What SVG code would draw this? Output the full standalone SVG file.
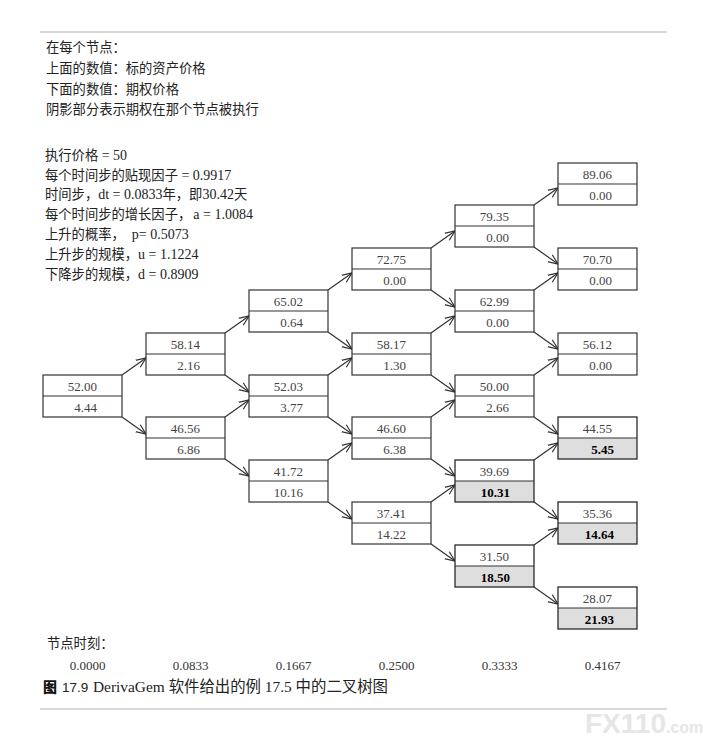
<svg xmlns="http://www.w3.org/2000/svg" width="703" height="738" viewBox="0 0 703 738">
<style>
.t{font-family:"Liberation Serif","Noto Sans CJK SC",serif;font-size:13.3px;fill:#222}
.l{font-size:14px}
.v{font-family:"Liberation Serif",serif;font-size:13px;fill:#444;text-anchor:end}
.b{font-family:"Liberation Serif",serif;font-size:13px;fill:#000;font-weight:bold;text-anchor:end}
.box{fill:#fff;stroke:#333;stroke-width:1.2}
.sbox{fill:none;stroke:#2a2a2a;stroke-width:1.3}
.sh{fill:#dedede;stroke:none}
.dv{stroke:#333;stroke-width:1.2}
.c path{fill:none;stroke:#333;stroke-width:1.2;marker-end:url(#ah)}
.tm{font-family:"Liberation Serif",serif;font-size:13px;fill:#333;text-anchor:middle}
.cap{font-family:"Liberation Serif","Noto Sans CJK SC",serif;font-size:15.4px;fill:#222}
</style>
<defs>
<marker id="ah" viewBox="0 0 10 10" refX="10" refY="5" markerWidth="10" markerHeight="10" markerUnits="userSpaceOnUse" orient="auto">
<path d="M0,0.8 L10,5 L0,9.2" fill="none" stroke="#333" stroke-width="1.2"/>
</marker>
</defs>
<rect width="703" height="738" fill="#fff"/>
<line x1="40" y1="32" x2="667" y2="32" stroke="#d8d8d8" stroke-width="2"/>
<line x1="40" y1="709" x2="667" y2="709" stroke="#d8d8d8" stroke-width="2"/>

<g id="legend">
<text class="t" x="46" y="51.5">在每个节点：</text>
<text class="t" x="46" y="73">上面的数值：标的资产价格</text>
<text class="t" x="46" y="93.5">下面的数值：期权价格</text>
<text class="t" x="46" y="114">阴影部分表示期权在那个节点被执行</text>
</g>
<g id="params">
<text class="t" x="45" y="160">执行价格<tspan class="l"> = 50</tspan></text>
<text class="t" x="45" y="179.5">每个时间步的贴现因子<tspan class="l"> = 0.9917</tspan></text>
<text class="t" x="45" y="199">时间步，<tspan class="l">dt = 0.0833</tspan>年，即<tspan class="l">30.42</tspan>天</text>
<text class="t" x="45" y="219">每个时间步的增长因子，<tspan class="l" dx="2">a = 1.0084</tspan></text>
<text class="t" x="45" y="239">上升的概率，<tspan class="l" dx="7">p= 0.5073</tspan></text>
<text class="t" x="45" y="259">上升步的规模，<tspan class="l">u = 1.1224</tspan></text>
<text class="t" x="45" y="279">下降步的规模，<tspan class="l">d = 0.8909</tspan></text>
</g>

<g id="connectors" class="c">
<path d="M122,375 L146,358"/><path d="M122,417 L146,434"/>
<path d="M225,333 L249,316"/><path d="M225,375 L249,392"/>
<path d="M225,417 L249,400"/><path d="M225,459 L249,476"/>
<path d="M328,290 L352,273"/><path d="M328,332 L352,349"/>
<path d="M328,375 L352,358"/><path d="M328,417 L352,434"/>
<path d="M328,460 L352,443"/><path d="M328,502 L352,519"/>
<path d="M431,248 L455,231"/><path d="M431,290 L455,307"/>
<path d="M431,333 L455,316"/><path d="M431,375 L455,392"/>
<path d="M431,417 L455,400"/><path d="M431,459 L455,476"/>
<path d="M431,502 L455,485"/><path d="M431,544 L455,561"/>
<path d="M534,205 L558,188"/><path d="M534,247 L558,264"/>
<path d="M534,290 L558,273"/><path d="M534,332 L558,349"/>
<path d="M534,375 L558,358"/><path d="M534,417 L558,434"/>
<path d="M534,460 L558,443"/><path d="M534,502 L558,519"/>
<path d="M534,545 L558,528"/><path d="M534,587 L558,604"/>
</g>

<g id="n0_0" transform="translate(43,375)"><rect class="box" width="79" height="42"/><line class="dv" x1="0" y1="21" x2="79" y2="21"/><text class="v" x="54" y="16">52.00</text><text class="v" x="54" y="37">4.44</text></g>

<g id="n1_0" transform="translate(146,333)"><rect class="box" width="79" height="42"/><line class="dv" x1="0" y1="21" x2="79" y2="21"/><text class="v" x="54" y="16">58.14</text><text class="v" x="54" y="37">2.16</text></g>
<g id="n1_1" transform="translate(146,417)"><rect class="box" width="79" height="42"/><line class="dv" x1="0" y1="21" x2="79" y2="21"/><text class="v" x="54" y="16">46.56</text><text class="v" x="54" y="37">6.86</text></g>

<g id="n2_0" transform="translate(249,290)"><rect class="box" width="79" height="42"/><line class="dv" x1="0" y1="21" x2="79" y2="21"/><text class="v" x="54" y="16">65.02</text><text class="v" x="54" y="37">0.64</text></g>
<g id="n2_1" transform="translate(249,375)"><rect class="box" width="79" height="42"/><line class="dv" x1="0" y1="21" x2="79" y2="21"/><text class="v" x="54" y="16">52.03</text><text class="v" x="54" y="37">3.77</text></g>
<g id="n2_2" transform="translate(249,460)"><rect class="box" width="79" height="42"/><line class="dv" x1="0" y1="21" x2="79" y2="21"/><text class="v" x="54" y="16">41.72</text><text class="v" x="54" y="37">10.16</text></g>

<g id="n3_0" transform="translate(352,248)"><rect class="box" width="79" height="42"/><line class="dv" x1="0" y1="21" x2="79" y2="21"/><text class="v" x="54" y="16">72.75</text><text class="v" x="54" y="37">0.00</text></g>
<g id="n3_1" transform="translate(352,333)"><rect class="box" width="79" height="42"/><line class="dv" x1="0" y1="21" x2="79" y2="21"/><text class="v" x="54" y="16">58.17</text><text class="v" x="54" y="37">1.30</text></g>
<g id="n3_2" transform="translate(352,417)"><rect class="box" width="79" height="42"/><line class="dv" x1="0" y1="21" x2="79" y2="21"/><text class="v" x="54" y="16">46.60</text><text class="v" x="54" y="37">6.38</text></g>
<g id="n3_3" transform="translate(352,502)"><rect class="box" width="79" height="42"/><line class="dv" x1="0" y1="21" x2="79" y2="21"/><text class="v" x="54" y="16">37.41</text><text class="v" x="54" y="37">14.22</text></g>

<g id="n4_0" transform="translate(455,205)"><rect class="box" width="79" height="42"/><line class="dv" x1="0" y1="21" x2="79" y2="21"/><text class="v" x="54" y="16">79.35</text><text class="v" x="54" y="37">0.00</text></g>
<g id="n4_1" transform="translate(455,290)"><rect class="box" width="79" height="42"/><line class="dv" x1="0" y1="21" x2="79" y2="21"/><text class="v" x="54" y="16">62.99</text><text class="v" x="54" y="37">0.00</text></g>
<g id="n4_2" transform="translate(455,375)"><rect class="box" width="79" height="42"/><line class="dv" x1="0" y1="21" x2="79" y2="21"/><text class="v" x="54" y="16">50.00</text><text class="v" x="54" y="37">2.66</text></g>
<g id="n4_3" transform="translate(455,460)"><rect x="0" y="0" width="79" height="21" fill="#fff"/><rect class="sh" x="0" y="21" width="79" height="21"/><line class="dv" x1="0" y1="21" x2="79" y2="21"/><rect class="sbox" width="79" height="42"/><text class="v" x="54" y="16">39.69</text><text class="b" x="55" y="37">10.31</text></g>
<g id="n4_4" transform="translate(455,545)"><rect x="0" y="0" width="79" height="21" fill="#fff"/><rect class="sh" x="0" y="21" width="79" height="21"/><line class="dv" x1="0" y1="21" x2="79" y2="21"/><rect class="sbox" width="79" height="42"/><text class="v" x="54" y="16">31.50</text><text class="b" x="55" y="37">18.50</text></g>

<g id="n5_0" transform="translate(558,163)"><rect class="box" width="79" height="42"/><line class="dv" x1="0" y1="21" x2="79" y2="21"/><text class="v" x="54" y="16">89.06</text><text class="v" x="54" y="37">0.00</text></g>
<g id="n5_1" transform="translate(558,248)"><rect class="box" width="79" height="42"/><line class="dv" x1="0" y1="21" x2="79" y2="21"/><text class="v" x="54" y="16">70.70</text><text class="v" x="54" y="37">0.00</text></g>
<g id="n5_2" transform="translate(558,333)"><rect class="box" width="79" height="42"/><line class="dv" x1="0" y1="21" x2="79" y2="21"/><text class="v" x="54" y="16">56.12</text><text class="v" x="54" y="37">0.00</text></g>
<g id="n5_3" transform="translate(558,417)"><rect x="0" y="0" width="79" height="21" fill="#fff"/><rect class="sh" x="0" y="21" width="79" height="21"/><line class="dv" x1="0" y1="21" x2="79" y2="21"/><rect class="sbox" width="79" height="42"/><text class="v" x="54" y="16">44.55</text><text class="b" x="56" y="37">5.45</text></g>
<g id="n5_4" transform="translate(558,502)"><rect x="0" y="0" width="79" height="21" fill="#fff"/><rect class="sh" x="0" y="21" width="79" height="21"/><line class="dv" x1="0" y1="21" x2="79" y2="21"/><rect class="sbox" width="79" height="42"/><text class="v" x="54" y="16">35.36</text><text class="b" x="56" y="37">14.64</text></g>
<g id="n5_5" transform="translate(558,587)"><rect x="0" y="0" width="79" height="21" fill="#fff"/><rect class="sh" x="0" y="21" width="79" height="21"/><line class="dv" x1="0" y1="21" x2="79" y2="21"/><rect class="sbox" width="79" height="42"/><text class="v" x="54" y="16">28.07</text><text class="b" x="56" y="37">21.93</text></g>

<g id="times">
<text class="t" x="47" y="648">节点时刻：</text>
<text class="tm" x="87.5" y="670">0.0000</text>
<text class="tm" x="190.5" y="670">0.0833</text>
<text class="tm" x="293.5" y="670">0.1667</text>
<text class="tm" x="396.5" y="670">0.2500</text>
<text class="tm" x="499.5" y="670">0.3333</text>
<text class="tm" x="602.5" y="670">0.4167</text>
</g>
<g id="caption">
<text x="43" y="692" style="font-family:'Noto Sans CJK SC',sans-serif;font-size:14px;font-weight:900;fill:#111">图</text>
<text x="62" y="692" style="font-family:'Liberation Sans',sans-serif;font-size:13.5px;fill:#222">17.9</text>
<text class="cap" x="93" y="692">DerivaGem 软件给出的例 17.5 中的二叉树图</text>
</g>
<text x="585" y="733" style="font-family:'Liberation Sans',sans-serif;font-weight:bold;fill:#e6e6e6"><tspan font-size="28">FX110</tspan><tspan font-size="16">.com</tspan></text>
</svg>
